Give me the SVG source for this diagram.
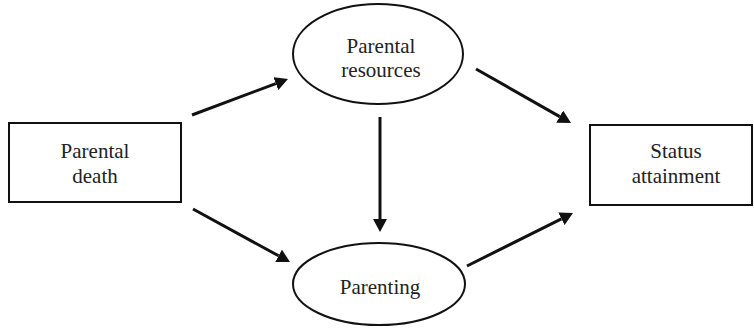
<svg xmlns="http://www.w3.org/2000/svg" width="754" height="328" viewBox="0 0 754 328">
<style>
.box{fill:#fff;stroke:#111;stroke-width:2}
.lbl{font-family:"Liberation Serif","Times New Roman",serif;font-size:21px;fill:#222;text-anchor:middle}
.conn{stroke:#111;stroke-width:3;fill:none;marker-end:url(#ah)}
</style>
<defs>
<marker id="ah" viewBox="0 0 13 14" refX="0" refY="7" markerWidth="13" markerHeight="14" markerUnits="userSpaceOnUse" orient="auto">
<path d="M0,0 L13,7 L0,14 z" fill="#111"/>
</marker>
</defs>
<rect width="754" height="328" fill="#fff"/>
<g id="connectors">
<line class="conn" x1="192" y1="115" x2="275.8" y2="83.6"/>
<line class="conn" x1="193" y1="209" x2="278.6" y2="255.8"/>
<line class="conn" x1="380" y1="117" x2="380" y2="219"/>
<line class="conn" x1="476" y1="69" x2="559.7" y2="116.6"/>
<line class="conn" x1="467" y1="266" x2="561.4" y2="218.8"/>
</g>
<g id="parental-death">
<rect class="box" x="9" y="123" width="172" height="79"/>
<text class="lbl" x="95" y="158">Parental</text>
<text class="lbl" x="95" y="183">death</text>
</g>
<g id="parental-resources">
<ellipse class="box" cx="378" cy="54" rx="85" ry="50"/>
<text class="lbl" x="381" y="53">Parental</text>
<text class="lbl" x="381" y="77">resources</text>
</g>
<g id="parenting">
<ellipse class="box" cx="379" cy="284" rx="86" ry="41"/>
<text class="lbl" x="380" y="294">Parenting</text>
</g>
<g id="status-attainment">
<rect class="box" x="590" y="125" width="162" height="80"/>
<text class="lbl" x="676" y="158">Status</text>
<text class="lbl" x="676" y="183">attainment</text>
</g>
</svg>
